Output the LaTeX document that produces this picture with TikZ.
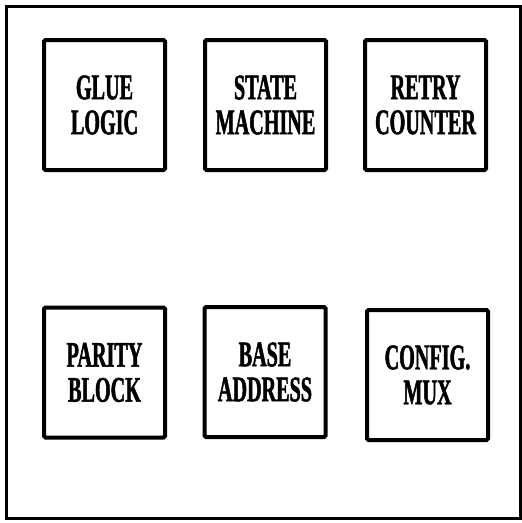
\documentclass[tikz,border=0pt]{standalone}
\usepackage{fontspec}
\newfontfamily\condserif[FakeStretch=0.56,FakeBold=1.3]{Liberation Serif}
\begin{document}
\begin{tikzpicture}[x=1pt,y=-1pt,
  blockbox/.style={draw=black, line width=4pt, rounded corners=1.5pt, fill=white,
    minimum width=121pt, minimum height=130pt, inner sep=0pt,
    align=center, font=\condserif\bfseries\fontsize{36}{35}\selectfont}]
\useasboundingbox (0,0) rectangle (522,523);
\draw[line width=3pt] (6,6) rectangle (520,518);
\node[blockbox] (glue)   at (104.5,105)   {GLUE\\LOGIC};
\node[blockbox] (state)  at (265.5,105)   {STATE\\MACHINE};
\node[blockbox] (retry)  at (425.5,105)   {RETRY\\COUNTER};
\node[blockbox] (parity) at (104.5,372.5) {PARITY\\BLOCK};
\node[blockbox] (base)   at (265,372)     {BASE\\ADDRESS};
\node[blockbox] (config) at (427.5,375)   {CONFIG.\\MUX};
\end{tikzpicture}
\end{document}
